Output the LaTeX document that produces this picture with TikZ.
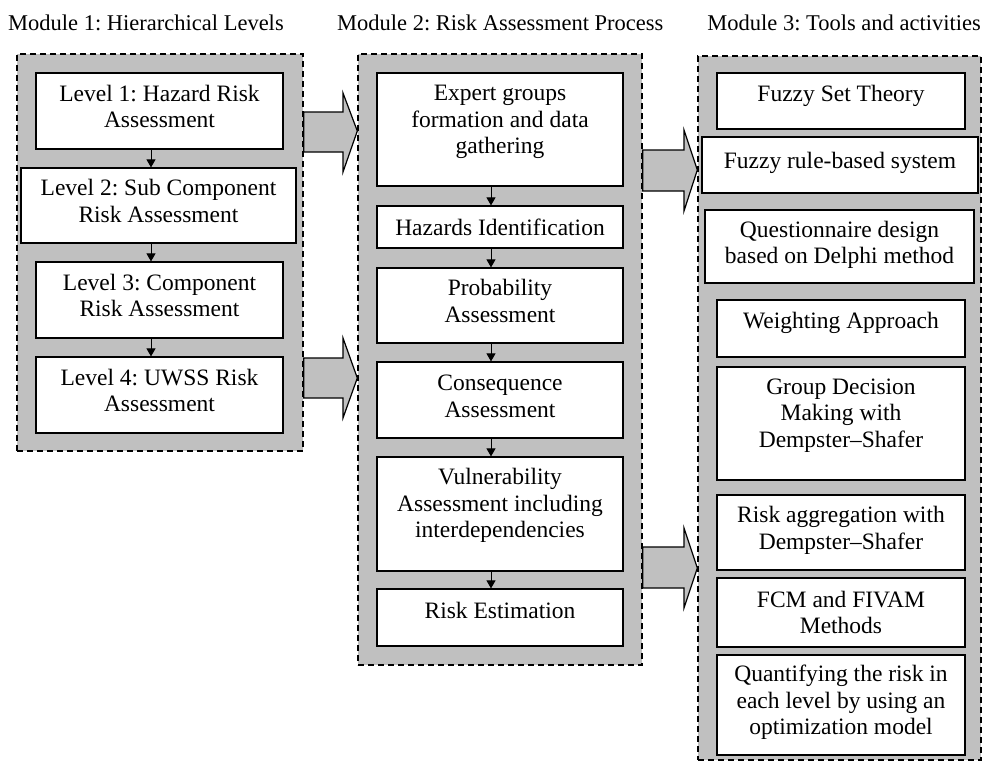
\documentclass[tikz,border=0pt]{standalone}
\usepackage{fontspec}
\setmainfont{Liberation Serif}
\usetikzlibrary{arrows.meta}
\definecolor{panelgray}{RGB}{192,192,192}
\frenchspacing
\begin{document}
\begin{tikzpicture}[x=1pt,y=-1pt,
  font=\fontsize{23.5}{26.5}\selectfont,
  panel/.style={draw, dashed, dash pattern=on 6pt off 4pt, line width=1.4pt, fill=panelgray, inner sep=0pt},
  stepbox/.style={draw, line width=1.2pt, fill=white, align=center, inner sep=2pt},
  lift/.style={execute at end node={\rule[-#1]{0pt}{#1}}},
  title/.style={inner sep=0pt, font=\fontsize{22.5}{26}\selectfont},
  arr/.style={line width=1pt, -{Triangle[width=9pt,length=8pt]}},
  blk/.style={draw, line width=1.2pt, fill=panelgray, line join=miter}]
\useasboundingbox (0,0) rectangle (983,771);

% titles
\node[title, anchor=west] (T1) at (8,23) {Module 1: Hierarchical Levels};
\node[title, anchor=west] (T2) at (337,23) {Module 2: Risk Assessment Process};
\node[title, anchor=east] (T3) at (981,23) {Module 3: Tools and activities};

% panels
\node[panel, minimum width=286pt, minimum height=397pt] (M1) at (160,252.5) {};
\node[panel, minimum width=284pt, minimum height=611pt] (M2) at (500,359.5) {};
\node[panel, minimum width=283pt, minimum height=704pt] (M3) at (839.5,408) {};

% module 1
\node[stepbox, lift=9pt, minimum width=247pt, minimum height=76pt] (L1) at (159.5,111) {Level 1: Hazard Risk\\Assessment};
\node[stepbox, lift=9pt, minimum width=275pt, minimum height=75pt] (L2) at (158.5,205.5) {Level 2: Sub Component\\Risk Assessment};
\node[stepbox, lift=9pt, minimum width=247pt, minimum height=76pt] (L3) at (159.5,300) {Level 3: Component\\Risk Assessment};
\node[stepbox, lift=9pt, minimum width=247pt, minimum height=76pt] (L4) at (159.5,395) {Level 4: UWSS Risk\\Assessment};

\draw[arr] ([xshift=-8.5pt]L1.south) -- ([xshift=-8.5pt]L1.south |- L2.north);
\draw[arr] ([xshift=-7.5pt]L2.south) -- ([xshift=-7.5pt]L2.south |- L3.north);
\draw[arr] ([xshift=-8.5pt]L3.south) -- ([xshift=-8.5pt]L3.south |- L4.north);

% module 2
\node[stepbox, lift=20pt, minimum width=246pt, minimum height=113pt] (E) at (500,129.5) {Expert groups\\formation and data\\gathering};
\node[stepbox, minimum width=246pt, minimum height=42pt] (H) at (500,227) {Hazards Identification};
\node[stepbox, lift=9pt, minimum width=246pt, minimum height=75pt] (P) at (500,305.5) {Probability\\Assessment};
\node[stepbox, lift=8pt, minimum width=246pt, minimum height=76pt] (C) at (500,400) {Consequence\\Assessment};
\node[stepbox, lift=22pt, minimum width=246pt, minimum height=114pt] (V) at (500,514) {Vulnerability\\Assessment including\\interdependencies};
\node[stepbox, lift=14pt, minimum width=246pt, minimum height=57pt] (R) at (500,617.5) {Risk Estimation};

\draw[arr] ([xshift=-9pt]E.south) -- ([xshift=-9pt]E.south |- H.north);
\draw[arr] ([xshift=-9pt]H.south) -- ([xshift=-9pt]H.south |- P.north);
\draw[arr] ([xshift=-9pt]P.south) -- ([xshift=-9pt]P.south |- C.north);
\draw[arr] ([xshift=-9pt]C.south) -- ([xshift=-9pt]C.south |- V.north);
\draw[arr] ([xshift=-9pt]V.south) -- ([xshift=-9pt]V.south |- R.north);

% module 3
\node[stepbox, lift=16pt, minimum width=248pt, minimum height=56pt] (F1) at (841,101) {Fuzzy Set Theory};
\node[stepbox, lift=10pt, minimum width=276pt, minimum height=56pt] (F2) at (840,165) {Fuzzy rule-based system};
\node[stepbox, lift=8pt, minimum width=269pt, minimum height=73pt] (Q) at (839.5,246.5) {Questionnaire design\\based on Delphi method};
\node[stepbox, lift=16pt, minimum width=248pt, minimum height=57pt] (W) at (841,328.5) {Weighting Approach};
\node[stepbox, lift=21pt, minimum width=248pt, minimum height=113pt] (G) at (841,423.5) {Group Decision\\Making with\\Dempster--Shafer};
\node[stepbox, lift=9pt, minimum width=248pt, minimum height=75pt] (RA) at (841,532.5) {Risk aggregation with\\Dempster--Shafer};
\node[stepbox, minimum width=248pt, minimum height=69pt] (FC) at (841,612.5) {FCM and FIVAM\\Methods};
\node[stepbox, lift=10pt, minimum width=248pt, minimum height=100pt] (QR) at (841,705) {Quantifying the risk in\\each level by using an\\optimization model};

% block arrows M1 -> M2
\draw[blk] (M1.east |- 0,112) -- (343,112) -- (343,93) -- (M2.west |- 0,131)
  -- (343,172) -- (343,152) -- (M1.east |- 0,152) -- cycle;
\draw[blk] (M1.east |- 0,358) -- (343,358) -- (343,338) -- (M2.west |- 0,378)
  -- (343,418) -- (343,398) -- (M1.east |- 0,398) -- cycle;
% block arrows M2 -> M3
\draw[blk] (M2.east |- 0,150) -- (684,150) -- (684,130) -- (M3.west |- 0,170)
  -- (684,211) -- (684,191) -- (M2.east |- 0,191) -- cycle;
\draw[blk] (M2.east |- 0,547) -- (684,547) -- (684,528) -- (M3.west |- 0,568)
  -- (684,608) -- (684,588) -- (M2.east |- 0,588) -- cycle;
\end{tikzpicture}
\end{document}
